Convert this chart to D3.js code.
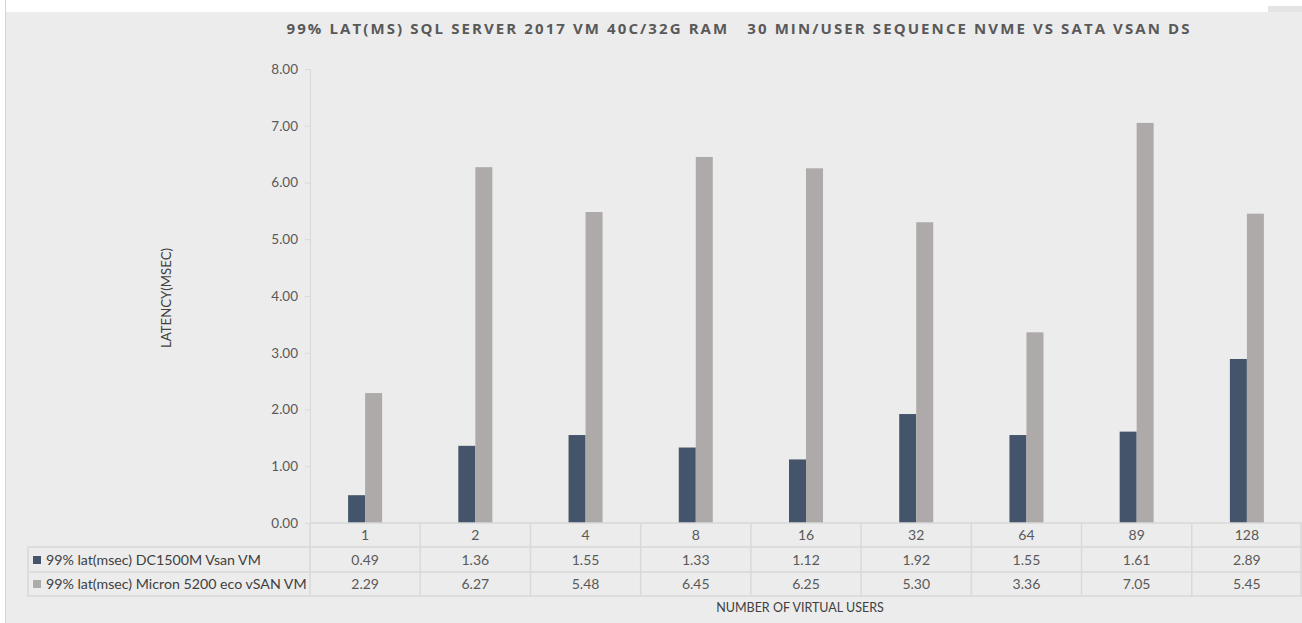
<!DOCTYPE html>
<html><head><meta charset="utf-8">
<script src="https://cdn.jsdelivr.net/npm/d3@7"></script>
<style>
html,body{margin:0;padding:0;background:#fff;}
svg{display:block;font-family:Lato,"Open Sans",sans-serif;}
</style></head>
<body><svg id="c" width="1302" height="623"></svg>
<script>
const categories = ["1","2","4","8","16","32","64","89","128"];
const seriesNames = ["99% lat(msec) DC1500M Vsan VM","99% lat(msec) Micron 5200 eco vSAN VM"];
const dcValues = [0.49,1.36,1.55,1.33,1.12,1.92,1.55,1.61,2.89];
const micronValues = [2.29,6.27,5.48,6.45,6.25,5.30,3.36,7.05,5.45];
const yTicks = [0,1,2,3,4,5,6,7,8];
const title = "99% LAT(MS) SQL SERVER 2017 VM 40C/32G RAM   30 MIN/USER SEQUENCE NVME VS SATA VSAN DS";
const yTitle = "LATENCY(MSEC)";
const xTitle = "NUMBER OF VIRTUAL USERS";

const colors = ["#44546a","#aeaaaa"];
const series = [dcValues, micronValues];

const svg = d3.select("#c");
// background
svg.append("rect").attr("x",6).attr("y",12).attr("width",1296).attr("height",611).attr("fill","#ececec");
svg.append("line").attr("x1",5.5).attr("x2",5.5).attr("y1",0).attr("y2",623).attr("stroke","#d4d4d4");
svg.append("rect").attr("x",1268).attr("y",6).attr("width",34).attr("height",6).attr("fill","#e4e4e4");

const pLeft = 310, pRight = 1302, pTop = 69, pBase = 523;
const x = d3.scaleBand().domain(categories).range([pLeft,pRight]).paddingInner(0).paddingOuter(0);
const y = d3.scaleLinear().domain([0,8]).range([pBase,pTop]);
const barW = 17;

// title
svg.append("text").attr("x",738).attr("y",34).attr("text-anchor","middle")
  .attr("font-family","'Open Sans',sans-serif").attr("font-weight","bold").attr("font-size",15)
  .attr("fill","#595959").attr("xml:space","preserve").style("white-space","pre")
  .attr("textLength",903).attr("lengthAdjust","spacing").text(title);

// y axis
const yAxis = svg.append("g").attr("transform",`translate(${pLeft},0)`)
  .call(d3.axisLeft(y).tickValues(yTicks).tickFormat(d3.format(".2f")).tickSize(5).tickPadding(7));
yAxis.select(".domain").attr("stroke","#d9d9d9").attr("d",`M-5,${pTop}.5H0.5V${pBase}.5`);
yAxis.selectAll(".tick line").attr("stroke","#d9d9d9");
yAxis.selectAll(".tick text").attr("fill","#595959").attr("font-size",13.5).attr("font-family","Lato,sans-serif");

svg.append("text").attr("transform",`translate(171,298) rotate(-90)`).attr("text-anchor","middle")
  .attr("fill","#404040").attr("font-size",13.5).attr("textLength",100).attr("lengthAdjust","spacingAndGlyphs").text(yTitle);

// bars
series.forEach((vals,si)=>{
  svg.append("g").selectAll("rect").data(categories).join("rect")
    .attr("x",d=>x(d)+x.bandwidth()/2 - barW + si*barW)
    .attr("width",barW)
    .attr("y",(d,i)=>y(vals[i]))
    .attr("height",(d,i)=>y(0)-y(vals[i]))
    .attr("fill",colors[si]);
});

// data table
const grid = svg.append("g").attr("stroke","#d9d9d9").attr("stroke-width",1.5);
grid.append("line").attr("x1",pLeft).attr("x2",pRight).attr("y1",pBase).attr("y2",pBase);
[547,572,596].forEach(yy=>grid.append("line").attr("x1",28).attr("x2",pRight).attr("y1",yy).attr("y2",yy));
grid.append("line").attr("x1",28).attr("x2",28).attr("y1",547).attr("y2",596);
categories.forEach(c=>{
  grid.append("line").attr("x1",x(c)).attr("x2",x(c)).attr("y1",pBase).attr("y2",596);
});
grid.append("line").attr("x1",pRight-1).attr("x2",pRight-1).attr("y1",pBase).attr("y2",596);

const tt = svg.append("g").attr("font-size",14).attr("fill","#595959").attr("text-anchor","middle");
categories.forEach((c,i)=>{
  const cx = x(c)+x.bandwidth()/2;
  tt.append("text").attr("x",cx).attr("y",540).text(c);
  tt.append("text").attr("x",cx).attr("y",564.5).text(d3.format(".2f")(dcValues[i]));
  tt.append("text").attr("x",cx).attr("y",588.5).text(d3.format(".2f")(micronValues[i]));
});
seriesNames.forEach((n,i)=>{
  const cy = 560 + i*24;
  svg.append("rect").attr("x",33).attr("y",cy-4).attr("width",8).attr("height",8).attr("fill",colors[i]);
  svg.append("text").attr("x",46).attr("y",cy+4.5).attr("font-size",14.2).attr("fill","#404040").text(n);
});

svg.append("text").attr("x",800).attr("y",612).attr("text-anchor","middle").attr("font-size",12.5)
  .attr("fill","#404040").text(xTitle);
</script></body></html>
